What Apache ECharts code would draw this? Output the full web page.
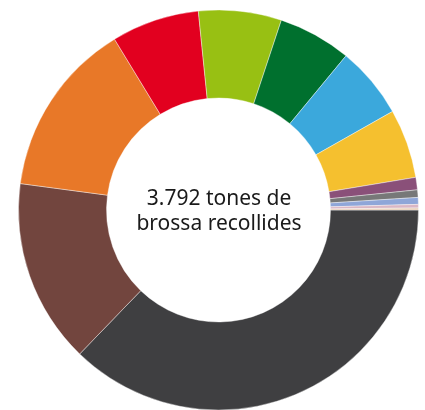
<!DOCTYPE html>
<html>
<head>
<meta charset="utf-8">
<script src="https://cdn.jsdelivr.net/npm/echarts@6/dist/echarts.min.js"></script>
<style>
  html, body {margin: 0; padding: 0; background: #fff;}
  #chart {width: 425px; height: 410px;}
</style>
</head>
<body>
<div id="chart"></div>
<script>
// tones per fracció (llegides del gràfic, total 3.792)
const names = ['F1', 'F2', 'F3', 'F4', 'F5', 'F6', 'F7', 'F8', 'F9', 'F10', 'F11', 'F12', 'F13']
const values = [1411, 565, 538, 269, 254, 224, 220, 212, 38, 23, 21, 11, 6]
const colors = [
  '#3f3f41', '#72453e', '#e87828', '#e2001f', '#98c013', '#00702e', '#3ba8dc',
  '#f5c02f', '#8a5079', '#777878', '#8fa6d8', '#d9b6c4', '#e6cbb3',
]
const centerText = '3.792 tones de\nbrossa recollides'

const chart = echarts.init(document.getElementById('chart'))

chart.setOption({
  animation: false,
  color: colors,
  series: [{
    type: 'pie',
    center: [218.5, 210],
    radius: [112, 200],
    startAngle: 0,
    clockwise: true,
    label: {show: false},
    labelLine: {show: false},
    emphasis: {disabled: true},
    itemStyle: {borderColor: '#fff', borderWidth: 0.4},
    data: names.map((n, i) => ({name: n, value: values[i]})),
  }],
  graphic: [{
    type: 'text',
    x: 219,
    y: 212,
    style: {
      text: centerText,
      textAlign: 'center',
      textVerticalAlign: 'middle',
      font: '21px "Noto Sans"',
      lineHeight: 25,
      fill: '#1a1a1a',
    },
  }],
})
</script>
</body>
</html>
